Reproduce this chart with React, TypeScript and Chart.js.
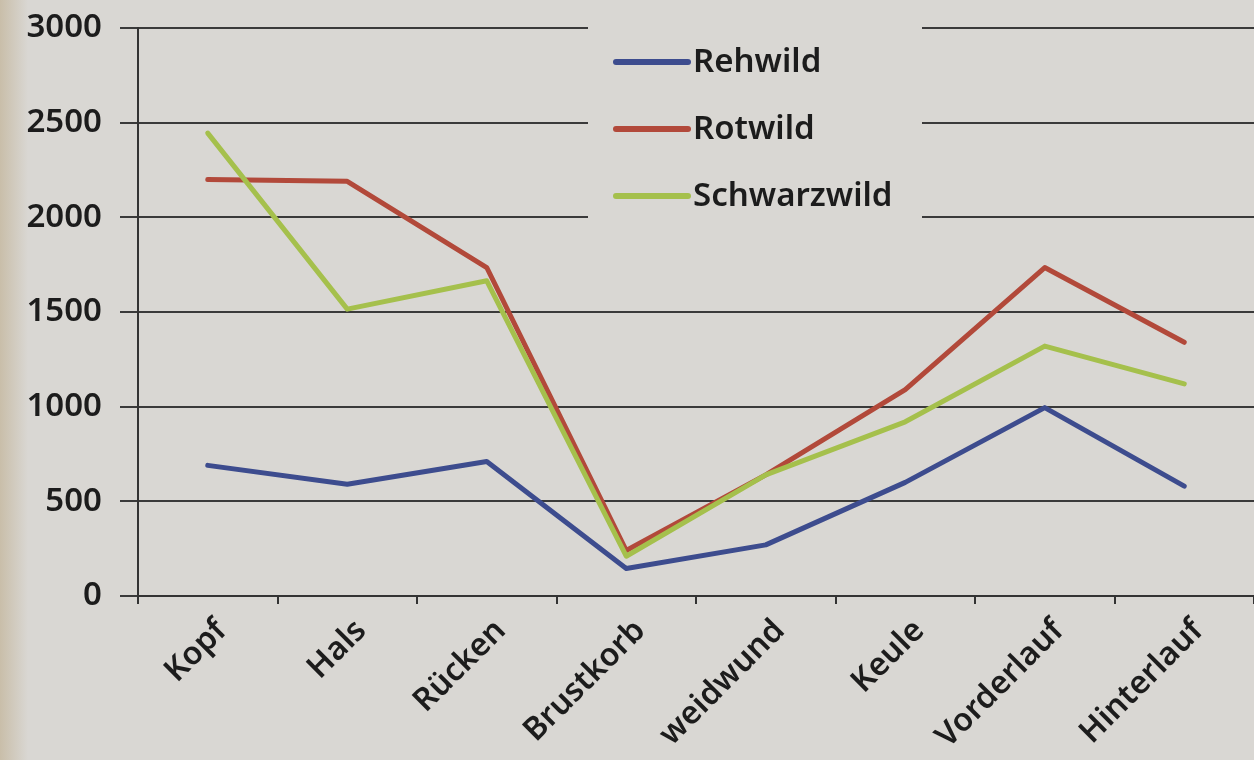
import React, { useEffect, useRef } from "react";
import { Chart, registerables } from "chart.js";

Chart.register(...registerables);

const categories = ["Kopf", "Hals", "Rücken", "Brustkorb", "weidwund", "Keule", "Vorderlauf", "Hinterlauf"];
const rehwild = [690, 590, 710, 145, 270, 600, 995, 580];
const rotwild = [2200, 2190, 1735, 240, 640, 1090, 1735, 1340];
const schwarzwild = [2445, 1515, 1665, 210, 640, 920, 1320, 1120];
const yTicks = [0, 500, 1000, 1500, 2000, 2500, 3000];

const BG = "#d9d7d3";
const FONT = "'Noto Sans', 'DejaVu Sans', sans-serif";

const legendPlugin = {
  id: "insideLegend",
  beforeDatasetsDraw(chart: any) {
    const ctx = chart.ctx;
    const items = chart.data.datasets;
    ctx.save();
    ctx.fillStyle = BG;
    ctx.fillRect(588, 18, 334, 218);
    items.forEach((ds: any, i: number) => {
      const y = 62 + i * 67;
      ctx.strokeStyle = ds.borderColor;
      ctx.lineWidth = 6;
      ctx.lineCap = "round";
      ctx.beginPath();
      ctx.moveTo(616, y);
      ctx.lineTo(688, y);
      ctx.stroke();
      ctx.fillStyle = "#1c1c1c";
      ctx.font = `600 33px ${FONT}`;
      ctx.textBaseline = "middle";
      ctx.textAlign = "left";
      ctx.fillText(ds.label, 693, y + 1);
    });
    ctx.restore();
  },
};

export default function App() {
  const ref = useRef<HTMLCanvasElement>(null);
  useEffect(() => {
    if (!ref.current) return;
    const chart = new Chart(ref.current, {
      type: "line",
      data: {
        labels: categories,
        datasets: [
          { label: "Rehwild", data: rehwild, borderColor: "#3d4c8e", backgroundColor: "#3d4c8e", order: 2 },
          { label: "Rotwild", data: rotwild, borderColor: "#b2493a", backgroundColor: "#b2493a", order: 1 },
          { label: "Schwarzwild", data: schwarzwild, borderColor: "#a5c04c", backgroundColor: "#a5c04c", order: 0 },
        ],
      },
      options: {
        responsive: false,
        animation: false,
        layout: { padding: { top: 28, right: 0, left: 0, bottom: 0 } },
        elements: {
          line: { borderWidth: 5, tension: 0, borderCapStyle: "round", borderJoinStyle: "round" },
          point: { radius: 0 },
        },
        plugins: { legend: { display: false }, tooltip: { enabled: false } },
        scales: {
          x: {
            type: "category",
            offset: true,
            afterFit: (s: any) => { s.height = 164; },
            grid: { display: true, offset: true, drawOnChartArea: false, drawTicks: true, tickLength: 8, color: "#333", lineWidth: 2 },
            border: { display: true, color: "#333", width: 2 },
            ticks: {
              color: "#1c1c1c",
              font: { family: FONT, size: 32, weight: "600" },
              minRotation: 45,
              maxRotation: 45,
              padding: 8,
              labelOffset: 14,
            },
          },
          y: {
            min: 0,
            max: 3000,
            afterFit: (s: any) => { s.width = 138; s.paddingTop = 0; s.paddingBottom = 0; },
            afterBuildTicks: (s: any) => { s.ticks = yTicks.map((v) => ({ value: v })); },
            grid: { color: "#3a3a3a", lineWidth: 2, tickLength: 18, drawTicks: true },
            border: { display: true, color: "#333", width: 2 },
            ticks: {
              color: "#1c1c1c",
              font: { family: FONT, size: 33, weight: "600" },
              padding: 18,
              callback: (v: any) => String(v),
            },
          },
        },
      },
      plugins: [legendPlugin],
    });
    return () => chart.destroy();
  }, []);
  return (
    <div style={{ position: "fixed", left: 0, top: 0, width: 1254, height: 760, background: `linear-gradient(to right, #c9bea9 0px, ${BG} 28px, ${BG} 100%)` }}>
      <canvas ref={ref} width={1254} height={760} style={{ display: "block" }} />
    </div>
  );
}
